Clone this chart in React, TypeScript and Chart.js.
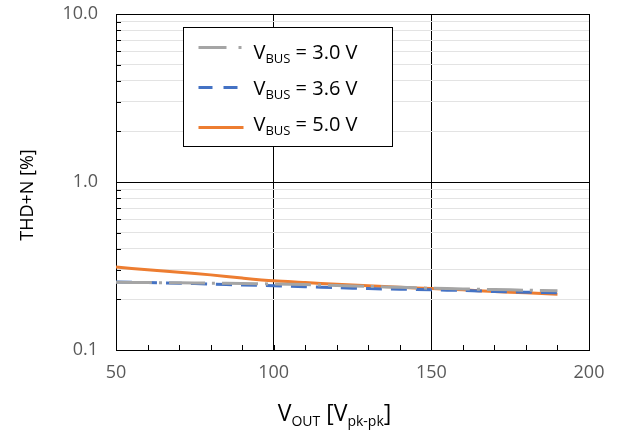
import React, { useEffect, useRef } from "react";
import { Chart, registerables } from "chart.js";

Chart.register(...registerables);

// ---- data ----
const vout = [50, 60, 70, 80, 90, 100, 110, 120, 130, 140, 150, 160, 170, 180, 190];
const thdBus30 = [0.253, 0.252, 0.251, 0.25, 0.249, 0.247, 0.245, 0.242, 0.239, 0.236, 0.233, 0.231, 0.229, 0.227, 0.225];
const thdBus36 = [0.254, 0.252, 0.25, 0.247, 0.244, 0.241, 0.238, 0.235, 0.232, 0.23, 0.228, 0.226, 0.223, 0.221, 0.219];
const thdBus50 = [0.312, 0.3, 0.29, 0.28, 0.268, 0.258, 0.252, 0.246, 0.241, 0.236, 0.232, 0.228, 0.223, 0.219, 0.215];

const seriesNames = ["3.0 V", "3.6 V", "5.0 V"];
const legendPrefix = "V";
const legendSub = "BUS";

const xTickValues = [50, 60, 70, 80, 90, 100, 110, 120, 130, 140, 150, 160, 170, 180, 190, 200];
const xLabelValues = [50, 100, 150, 200];
const yTickValues = [0.1, 0.2, 0.3, 0.4, 0.5, 0.6, 0.7, 0.8, 0.9, 1, 2, 3, 4, 5, 6, 7, 8, 9, 10];
const yLabelValues = [0.1, 1, 10];

const yTitle = "THD+N [%]";
const xTitleParts: { t: string; sub: boolean }[] = [
  { t: "V", sub: false },
  { t: "OUT", sub: true },
  { t: " [V", sub: false },
  { t: "pk-pk", sub: true },
  { t: "]", sub: false },
];

const colors = ["#a5a5a5", "#4472c4", "#ed7d31"];
const dashes = [[36, 7, 3, 7], [16, 9], []];
const FONT = "'Open Sans', 'Liberation Sans', sans-serif";

const decorPlugin = {
  id: "decor",
  beforeDatasetsDraw(chart: any) {
    const { ctx, chartArea: a, scales } = chart;
    const x = scales.x;
    const y = scales.y;
    ctx.save();
    ctx.strokeStyle = "#000";
    ctx.lineWidth = 1;
    ctx.beginPath();
    for (const v of xTickValues) {
      const px = Math.round(x.getPixelForValue(v)) + 0.5;
      ctx.moveTo(px, a.bottom);
      ctx.lineTo(px, a.bottom - 5);
    }
    for (const v of yTickValues) {
      const py = Math.round(y.getPixelForValue(v)) + 0.5;
      ctx.moveTo(a.left, py);
      ctx.lineTo(a.left + 5, py);
    }
    ctx.stroke();
    ctx.restore();
  },
  afterDraw(chart: any) {
    const { ctx, chartArea: a } = chart;
    ctx.save();

    // Y title
    ctx.fillStyle = "#000";
    ctx.font = `18px ${FONT}`;
    ctx.textAlign = "center";
    ctx.textBaseline = "middle";
    ctx.translate(28, (a.top + a.bottom) / 2 + 13);
    ctx.rotate(-Math.PI / 2);
    ctx.fillText(yTitle, 0, 0);
    ctx.setTransform(1, 0, 0, 1, 0, 0);

    // X title with subscripts
    const mainFont = `23px ${FONT}`;
    const subFont = `14px ${FONT}`;
    ctx.textAlign = "left";
    ctx.textBaseline = "alphabetic";
    let total = 0;
    for (const p of xTitleParts) {
      ctx.font = p.sub ? subFont : mainFont;
      total += ctx.measureText(p.t).width;
    }
    let cx = (a.left + a.right) / 2 - 18 - total / 2;
    const base = a.bottom + 71;
    for (const p of xTitleParts) {
      ctx.font = p.sub ? subFont : mainFont;
      ctx.fillText(p.t, cx, base + (p.sub ? 5 : 0));
      cx += ctx.measureText(p.t).width;
    }

    // Legend
    const bx = Math.round(a.left + 67) + 0.5;
    const by = Math.round(a.top + 13) + 0.5;
    const bw = 209;
    const bh = 119;
    ctx.fillStyle = "#fff";
    ctx.fillRect(bx, by, bw, bh);
    ctx.strokeStyle = "#000";
    ctx.lineWidth = 1;
    ctx.strokeRect(bx, by, bw, bh);
    const sampleY = [20, 60, 100];
    const textY = [24, 60, 96];
    for (let i = 0; i < seriesNames.length; i++) {
      ctx.beginPath();
      ctx.strokeStyle = colors[i];
      ctx.lineWidth = 3;
      ctx.setLineDash(i === 0 ? [28, 12, 3, 12] : i === 1 ? [14, 11] : []);
      ctx.moveTo(bx + 15, by + sampleY[i]);
      ctx.lineTo(bx + 60, by + sampleY[i]);
      ctx.stroke();
      ctx.setLineDash([]);

      ctx.fillStyle = "#000";
      ctx.textBaseline = "alphabetic";
      let tx = bx + 70;
      const ty = by + textY[i] + 7;
      ctx.font = `20px ${FONT}`;
      ctx.fillText(legendPrefix, tx, ty);
      tx += ctx.measureText(legendPrefix).width;
      ctx.font = `13px ${FONT}`;
      ctx.fillText(legendSub, tx, ty + 4);
      tx += ctx.measureText(legendSub).width;
      ctx.font = `20px ${FONT}`;
      ctx.fillText(" = " + seriesNames[i], tx, ty);
    }
    ctx.restore();
  },
};

export default function App() {
  const ref = useRef<HTMLCanvasElement>(null);

  useEffect(() => {
    document.body.style.margin = "0";
    const canvas = ref.current!;
    const series = [thdBus30, thdBus36, thdBus50];
    const chart = new Chart(canvas, {
      type: "line",
      data: {
        datasets: series.map((s, i) => ({
          label: seriesNames[i],
          data: s.map((v, j) => ({ x: vout[j], y: v })),
          borderColor: colors[i],
          backgroundColor: colors[i],
          borderWidth: 3,
          borderDash: dashes[i],
          borderCapStyle: "butt" as const,
          pointRadius: 0,
          tension: 0.3,
          fill: false,
        })),
      },
      options: {
        responsive: false,
        animation: false,
        devicePixelRatio: 1,
        layout: { padding: { top: 14, right: 29, left: 0, bottom: 0 } },
        plugins: { legend: { display: false }, tooltip: { enabled: false } },
        scales: {
          x: {
            type: "linear",
            min: 50,
            max: 200,
            afterBuildTicks: (scale: any) => {
              scale.ticks = xTickValues.map((v) => ({ value: v }));
            },
            afterFit: (scale: any) => {
              scale.height = 88;
              scale.paddingLeft = 0;
              scale.paddingRight = 0;
            },
            ticks: {
              autoSkip: false,
              maxRotation: 0,
              padding: 12,
              color: "#595959",
              font: { family: FONT, size: 18 },
              callback: (v: any) => (xLabelValues.includes(Number(v)) ? String(v) : ""),
            },
            grid: {
              drawTicks: false,
              lineWidth: 1,
              color: (c: any) => (c.tick && xLabelValues.includes(c.tick.value) ? "#000" : "rgba(0,0,0,0)"),
            },
            border: { display: true, color: "#000", width: 1 },
          },
          y: {
            type: "logarithmic",
            min: 0.1,
            max: 10,
            afterBuildTicks: (scale: any) => {
              scale.ticks = yTickValues.map((v) => ({ value: v, major: yLabelValues.includes(v) }));
            },
            afterFit: (scale: any) => {
              scale.width = 116;
              scale.paddingTop = 0;
              scale.paddingBottom = 0;
            },
            ticks: {
              autoSkip: false,
              padding: 18,
              color: "#595959",
              font: { family: FONT, size: 18 },
              callback: (v: any) => (yLabelValues.includes(Number(v)) ? Number(v).toFixed(1) : ""),
            },
            grid: {
              drawTicks: false,
              lineWidth: 1,
              color: (c: any) => (c.tick && yLabelValues.includes(c.tick.value) ? "#000" : "#e3e3e3"),
            },
            border: { display: true, color: "#000", width: 1 },
          },
        },
      },
      plugins: [decorPlugin],
    });
    return () => chart.destroy();
  }, []);

  return <canvas ref={ref} width={618} height={438} style={{ display: "block" }} />;
}
